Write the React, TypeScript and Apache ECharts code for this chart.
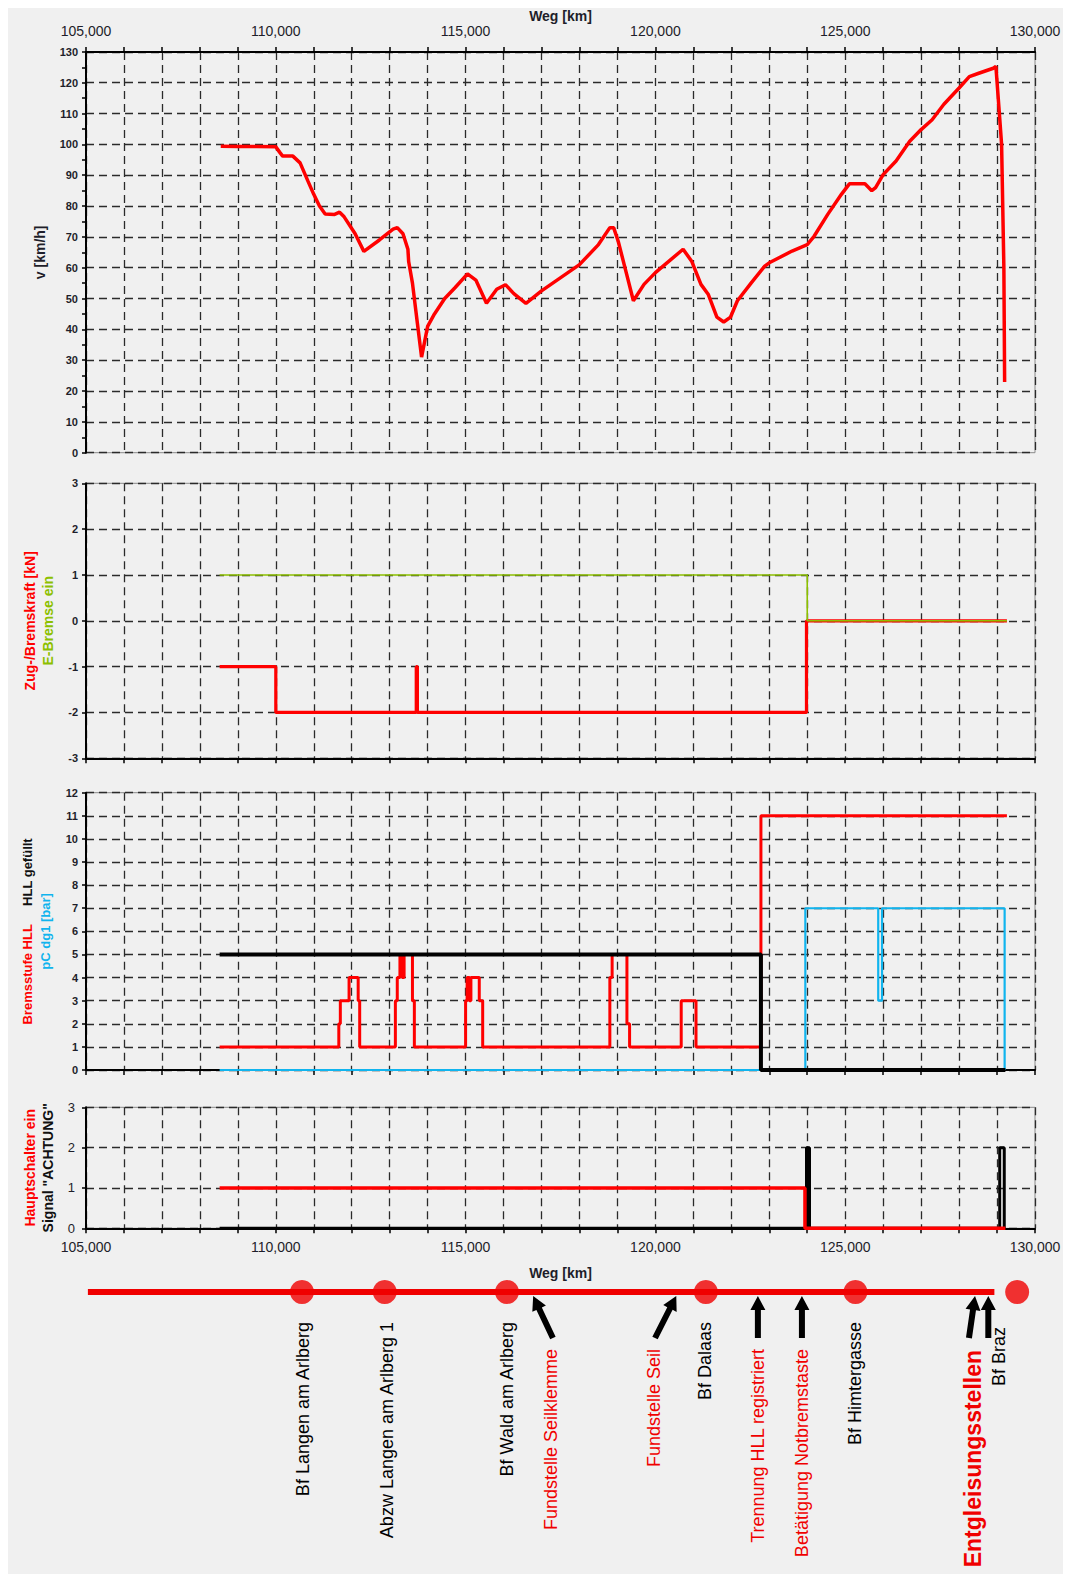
import React, { useEffect, useRef } from 'react';
import * as echarts from 'echarts';

// ---------- DATA ----------
const KM_MIN = 105;
const KM_MAX = 130;

// Chart 1: speed v [km/h] over Weg [km]
const speed: [number, number][] = [
  [108.55, 99.4], [109.0, 99.3], [109.5, 99.3], [110.0, 99.2], [110.1, 97.5], [110.18, 96.2],
  [110.45, 96.2], [110.64, 94], [110.85, 88], [111.0, 83.8], [111.15, 80], [111.3, 77.4],
  [111.55, 77.3], [111.68, 78], [111.8, 76.5], [112.09, 71], [112.32, 65.3], [112.73, 69],
  [113.09, 72.5], [113.2, 73], [113.35, 71], [113.48, 66], [113.5, 62], [113.6, 55],
  [113.73, 42], [113.84, 31], [114.0, 41], [114.18, 45], [114.45, 50], [114.72, 53.5],
  [115.05, 58], [115.27, 56], [115.55, 48.5], [115.82, 53], [116.05, 54.5], [116.27, 51.6],
  [116.59, 48.4], [117.0, 52.5], [118.0, 61], [118.5, 67.5], [118.8, 73], [118.9, 73],
  [119.02, 68.6], [119.24, 58], [119.42, 49.3], [119.7, 54.6], [120.0, 58.4], [120.73, 66],
  [120.96, 62], [121.2, 54.6], [121.39, 51.4], [121.62, 44], [121.8, 42.4], [121.98, 44],
  [122.16, 49.3], [122.52, 55], [122.88, 60.5], [123.0, 61.6], [123.6, 65.4], [124.0, 67.5],
  [124.18, 70.2], [124.54, 77.3], [124.9, 83.8], [125.11, 87.2], [125.52, 87.2], [125.7, 85],
  [125.8, 86], [126.0, 90.2], [126.34, 94.6], [126.7, 101], [127.0, 104.8], [127.29, 108],
  [127.6, 113], [128.0, 118.3], [128.27, 122], [128.5, 123], [128.9, 124.7], [128.97, 125.3],
  [129.05, 111.9], [129.12, 100], [129.18, 60], [129.2, 22.9],
];

// Chart 2 (step changes): Zug-/Bremskraft and E-Bremse ein
const zugBremskraft: [number, number][] = [
  [108.52, -1], [110.0, -2], [113.7, -1], [113.73, -2], [123.98, 0], [129.26, 0],
];
const eBremse: [number, number][] = [
  [108.52, 1], [124.0, 0], [129.26, 0],
];

// Chart 3 (step changes): Bremsstufe HLL, HLL gefüllt, pC dg1
const bremsstufe: [number, number][] = [
  [108.52, 1], [111.66, 2], [111.7, 3], [111.93, 4], [112.17, 3], [112.21, 1],
  [113.15, 3], [113.2, 4], [113.27, 5], [113.33, 4], [113.38, 5], [113.6, 3], [113.65, 1],
  [115.0, 3], [115.04, 4], [115.1, 3], [115.14, 4], [115.36, 3], [115.45, 1],
  [118.8, 4], [118.86, 5], [119.25, 2], [119.32, 1], [120.68, 3], [121.07, 1],
  [122.78, 11], [129.26, 11],
];
const hllGefuellt: [number, number][] = [
  [108.52, 5], [122.78, 0], [129.22, 0],
];
const pCdg1: [number, number][] = [
  [108.52, 0], [123.95, 7], [125.87, 3], [125.97, 7], [129.2, 0],
];

// Chart 4 (step changes): Hauptschalter ein, Signal "ACHTUNG"
const hauptschalter: [number, number][] = [
  [108.52, 1], [123.94, 0], [129.22, 0],
];
const signalAchtung: [number, number][] = [
  [108.52, 0], [123.98, 2], [124.06, 0], [129.07, 2], [129.19, 0],
];

// Route strip
const trackKm: [number, number] = [105.05, 128.93];
const stationNames = ['Bf Langen am Arlberg', 'Abzw Langen am Arlberg 1', 'Bf Wald am Arlberg', 'Bf Dalaas', 'Bf Himtergasse', 'Bf Braz'];
const stationKm = [110.69, 112.87, 116.09, 121.33, 125.27, 129.53];
const stationLabelKm = [110.72, 112.93, 116.1, 121.3, 125.25, 129.06];
const eventNames = ['Fundstelle Seilklemme', 'Fundstelle Seil', 'Trennung HLL registriert', 'Betätigung Notbremstaste'];
const eventLabelKm = [117.25, 119.96, 122.69, 123.86];
const derailName = 'Entgleisungsstellen';
const derailLabelKm = 128.37;
const arrowTipKm = [116.78, 120.55, 122.7, 123.86, 128.42, 128.77];
const arrowTailKm = [117.3, 119.99, 122.7, 123.86, 128.26, 128.77];

// ---------- STYLE ----------
const FF = "'Liberation Sans', Arial, sans-serif";
const RED = '#ff0000';
const GREEN = '#8cc000';
const BLUE = '#10b4ee';
const TXT = '#1e1e2a';
const LEFT = 78;
const WIDTH = 949;

const fmtKm = (v: number) => (v % 5 === 0 ? v.toFixed(3).replace('.', ',') : '');

const splitLine = { show: true, lineStyle: { color: '#2a2a2a', width: 1.3, type: [8, 5] as number[] } };
const axisLine = { show: true, onZero: false, lineStyle: { color: '#000', width: 2 } };
const axisTick = { show: true, length: 5, lineStyle: { color: '#000', width: 1.5 } };

function xAxis(gridIndex: number, pos: 'top' | 'bottom', labels: boolean, name?: string, nameGap?: number, margin = 12) {
  return {
    type: 'value', gridIndex, position: pos, min: KM_MIN, max: KM_MAX, interval: 1,
    axisLine, axisTick, splitLine,
    axisLabel: { show: labels, formatter: fmtKm, fontSize: 14, fontFamily: FF, color: TXT, margin },
    name: name || '', nameLocation: 'middle', nameGap: nameGap || 0,
    nameTextStyle: { fontSize: 14, fontWeight: 'bold', fontFamily: FF, color: TXT },
  };
}

function yAxis(gridIndex: number, min: number, max: number, interval: number, name: any, nameGap: number, rich: any, big = false, minor = false) {
  return {
    type: 'value', gridIndex, min, max, interval,
    axisLine, axisTick: { ...axisTick, length: 4 }, splitLine,
    minorTick: { show: minor, splitNumber: 2, length: 4, lineStyle: { color: '#000', width: 1.5 } },
    axisLabel: {
      fontSize: big ? 13 : 11, fontWeight: big ? 'normal' : 'bold', fontFamily: FF, color: TXT, margin: big ? 11 : 8,
    },
    name, nameLocation: 'middle', nameGap, nameRotate: 90,
    nameTextStyle: { fontSize: 14, fontWeight: 'bold', fontFamily: FF, color: TXT, lineHeight: 18, rich },
  };
}

function stepLine(xi: number, data: [number, number][], color: string, width: number, z = 3) {
  return {
    type: 'line', xAxisIndex: xi, yAxisIndex: xi, data, step: 'end', showSymbol: false, symbol: 'none',
    lineStyle: { color, width }, z, silent: true,
  };
}

export default function App() {
  const ref = useRef<HTMLDivElement>(null);
  useEffect(() => {
    const chart = echarts.init(ref.current!, undefined, { renderer: 'svg' });
    const richTitle = (fs = 14) => ({
      r: { color: RED, fontWeight: 'bold', fontSize: fs, fontFamily: FF, lineHeight: 18 },
      g: { color: GREEN, fontWeight: 'bold', fontSize: fs, fontFamily: FF, lineHeight: 18 },
      b: { color: BLUE, fontWeight: 'bold', fontSize: fs, fontFamily: FF, lineHeight: 18 },
      k: { color: '#111', fontWeight: 'bold', fontSize: fs, fontFamily: FF, lineHeight: 18 },
    });
    const gridBase = { left: LEFT, width: WIDTH, show: true, borderColor: '#8a8a8a', borderWidth: 1, backgroundColor: 'transparent' };
    const option: any = {
      animation: false,
      backgroundColor: '#f0f0f0',
      grid: [
        { ...gridBase, top: 41.3, height: 403.4 },
        { ...gridBase, top: 475.3, height: 275 },
        { ...gridBase, top: 784.7, height: 277.3 },
        { ...gridBase, top: 1099.3, height: 121 },
        { left: LEFT, width: WIDTH, top: 1270, height: 28, show: false },
      ],
      xAxis: [
        xAxis(0, 'top', true, 'Weg [km]', 26, 14),
        xAxis(1, 'bottom', false),
        xAxis(2, 'bottom', false),
        xAxis(3, 'bottom', true, 'Weg [km]', 38, 12),
        { type: 'value', gridIndex: 4, min: KM_MIN, max: KM_MAX, show: false },
      ],
      yAxis: [
        yAxis(0, 0, 130, 10, 'v [km/h]', 34, undefined, false, true),
        yAxis(1, -3, 3, 1, '{r|Zug-/Bremskraft [kN]}\n{g|E-Bremse ein}', 18, richTitle()),
        yAxis(2, 0, 12, 1, '{r|Bremsstufe HLL}{k|     HLL gefüllt}\n{b|pC dg1 [bar]}', 22, richTitle(13)),
        yAxis(3, 0, 3, 1, '{r|Hauptschalter ein}\n{k|Signal "ACHTUNG"}', 20, richTitle(), true),
        { type: 'value', gridIndex: 4, min: 0, max: 1, show: false },
      ],
      series: [
        {
          type: 'line', xAxisIndex: 0, yAxisIndex: 0, data: speed, showSymbol: false, symbol: 'none',
          lineStyle: { color: RED, width: 3.5 }, z: 3, silent: true,
        },
        stepLine(1, zugBremskraft, RED, 3.2),
        stepLine(1, eBremse, GREEN, 1.6, 4),
        stepLine(2, pCdg1, BLUE, 2.2),
        stepLine(2, bremsstufe, RED, 3, 4),
        stepLine(2, hllGefuellt, '#000', 4, 5),
        stepLine(3, signalAchtung, '#000', 3),
        stepLine(3, hauptschalter, RED, 3.5, 4),
        {
          type: 'line', xAxisIndex: 4, yAxisIndex: 4, data: trackKm.map((k) => [k, 0.5]), showSymbol: false,
          symbol: 'none', lineStyle: { color: '#f00000', width: 6 }, z: 3, silent: true,
        },
        {
          type: 'scatter', xAxisIndex: 4, yAxisIndex: 4, data: stationKm.map((k) => [k, 0.5]),
          symbol: 'circle', symbolSize: 24, itemStyle: { color: '#f00000' }, z: 4, silent: true,
        },
      ],
    };
    chart.setOption(option);

    const px = (km: number) => chart.convertToPixel({ gridIndex: 4 } as any, [km, 0.5]) as number[];
    const rot = Math.PI / 2;
    const textEl = (km: number, top: number, text: string, color: string, size: number, weight = 'normal') => {
      const p = px(km);
      return {
        type: 'text', x: p[0], y: top, rotation: rot, silent: true, z: 10,
        style: {
          text, fill: color, fontSize: size, fontFamily: FF, fontWeight: weight,
          textAlign: 'right', align: 'right', textVerticalAlign: 'middle', verticalAlign: 'middle',
        },
      };
    };
    const graphics: any[] = [];
    stationNames.forEach((n, i) => {
      const top = i === stationNames.length - 1 ? 1319 : 1314;
      graphics.push(textEl(stationLabelKm[i], top, n, '#000', 18));
    });
    eventNames.forEach((n, i) => graphics.push(textEl(eventLabelKm[i], 1341, n, '#f00000', 18)));
    graphics.push(textEl(derailLabelKm, 1342, derailName, '#f00000', 23, 'bold'));

    // arrows
    const tipY = 1288;
    const tailY = 1330;
    arrowTipKm.forEach((tk, i) => {
      const T = [px(tk)[0], tipY];
      const S = [px(arrowTailKm[i])[0], tailY];
      const dx = T[0] - S[0];
      const dy = T[1] - S[1];
      const len = Math.sqrt(dx * dx + dy * dy);
      const ux = dx / len, uy = dy / len;
      const nx = -uy, ny = ux;
      const headLen = 14, hw = 7.5, sw = 3;
      const B = [T[0] - ux * headLen, T[1] - uy * headLen];
      const pts = [
        [S[0] + nx * sw, S[1] + ny * sw],
        [B[0] + nx * sw, B[1] + ny * sw],
        [B[0] + nx * hw, B[1] + ny * hw],
        T,
        [B[0] - nx * hw, B[1] - ny * hw],
        [B[0] - nx * sw, B[1] - ny * sw],
        [S[0] - nx * sw, S[1] - ny * sw],
      ];
      graphics.push({ type: 'polygon', shape: { points: pts }, style: { fill: '#000' }, silent: true, z: 10 });
    });
    chart.setOption({ graphic: graphics });

    return () => chart.dispose();
  }, []);
  return <div ref={ref} style={{ width: 1063, height: 1566 }} />;
}
